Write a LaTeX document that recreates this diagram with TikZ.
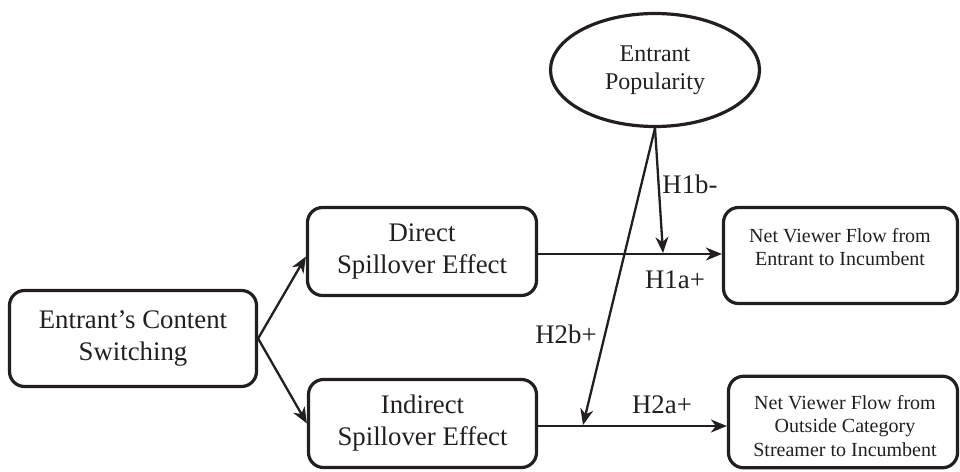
\documentclass[tikz,border=0pt]{standalone}
\usepackage{fontspec}
\setmainfont{Liberation Serif}
\usetikzlibrary{shapes.geometric,arrows.meta}
\definecolor{ink}{RGB}{35,31,32}
\begin{document}
\begin{tikzpicture}[x=1pt,y=-1pt,
  box/.style={draw=ink, line width=3.2pt, rounded corners=15pt, inner sep=0pt, align=center, text=ink, font=\fontsize{26.8}{32}\selectfont},
  oval/.style={ellipse, draw=ink, line width=3.2pt, inner sep=0pt, align=center, text=ink, font=\fontsize{24}{28}\selectfont},
  netbox/.style={draw=ink, line width=3.2pt, rounded corners=15pt, inner sep=0pt},
  smalltext/.style={align=center, text=ink, font=\fontsize{20}{23.5}\selectfont, inner sep=0pt},
  hyp/.style={text=ink, font=\fontsize{26.8}{32}\selectfont, inner sep=0pt},
  arr/.style={draw=ink, line width=2.3pt, -{Stealth[length=16pt,width=13pt,inset=5pt]}},
]
\useasboundingbox (0,0) rectangle (960,471);

\node[oval, minimum width=209pt, minimum height=113pt] (pop) at (655,70) {Entrant\\Popularity};

\node[box, minimum width=247pt, minimum height=96pt] (entrant) at (133,338.5) {Entrant’s Content\\Switching};
\node[box, minimum width=229pt, minimum height=88pt] (direct) at (422,251.5) {Direct\\Spillover Effect};
\node[box, minimum width=228pt, minimum height=88pt] (indirect) at (422.5,423.5) {Indirect\\Spillover Effect};

\node[netbox, minimum width=234pt, minimum height=96pt] (net1) at (840.5,255.5) {};
\node[smalltext] (net1t) at (840,247) {Net Viewer Flow from\\Entrant to Incumbent};
\node[netbox, minimum width=229pt, minimum height=91.5pt] (net2) at (843,422) {};
\node[smalltext] (net2t) at (845,426) {Net Viewer Flow from\\Outside Category\\Streamer to Incumbent};

\coordinate (h1) at (0,254);
\coordinate (h2) at (0,426);
\coordinate (m1) at (663,253);
\coordinate (m2) at (583,425);

\draw[arr] (entrant.east) -- ([yshift=-5pt]direct.west);
\draw[arr] (entrant.east) -- (indirect.west);
\draw[arr] (direct.east |- h1) -- (net1.west |- h1);
\draw[arr] (indirect.east |- h2) -- (net2.west |- h2);
\draw[arr] (pop.south) -- (m1);
\draw[arr] (pop.south) -- (m2);

\node[hyp] (h1b) at (690,184) {H1b-};
\node[hyp] (h1a) at (675,280) {H1a+};
\node[hyp] (h2b) at (566,334) {H2b+};
\node[hyp] (h2a) at (662,405) {H2a+};
\end{tikzpicture}
\end{document}
